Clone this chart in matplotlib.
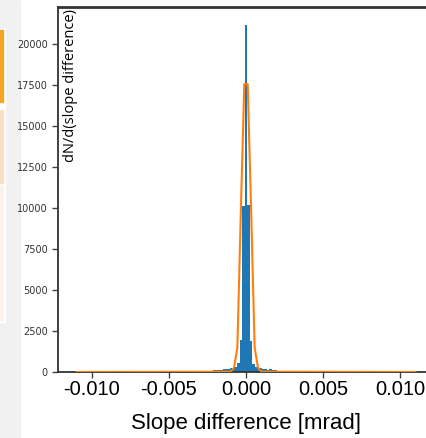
import numpy as np
import matplotlib
matplotlib.use("Agg")
import matplotlib.pyplot as plt
from matplotlib.patches import Rectangle

# histogram of slope differences (blue), bin heights
bin_width = 0.00016
hist_counts = [60, 90, 110, 140, 120, 150, 180, 160, 200, 230, 260, 330,
               520, 1950, 10150, 21180, 10200, 1900, 480,
               310, 250, 220, 190, 170, 150, 160, 120, 100, 80, 60, 40]

# fitted curve (orange)
fit_x = [-0.011, -0.00100, -0.00078, -0.00056, -0.00033, -0.00011,
         0.00011, 0.00033, 0.00056, 0.00078, 0.00100, 0.011]
fit_y = [0, 20, 250, 1500, 10000, 17580,
         17580, 10000, 1500, 250, 20, 0]

xticks = [-0.010, -0.005, 0.000, 0.005, 0.010]
yticks = [0, 2500, 5000, 7500, 10000, 12500, 15000, 17500, 20000]

W, H = 426, 438
fig = plt.figure(figsize=(W / 100, H / 100), dpi=100)

# leftover notebook strip on the left (behind everything)
def strip(x0, y0, w, h, c):
    fig.patches.append(Rectangle((x0 / W, 1 - (y0 + h) / H), w / W, h / H,
                                 transform=fig.transFigure, color=c, zorder=-10))

strip(0, 0, 20, H, "#f1f1f1")
strip(0, 28, 4.7, 294, "white")
strip(0, 30, 3, 72, "#f5a623")
strip(0, 110, 3, 73, "#fbe0c8")
strip(0, 186, 3, 134, "#fef3ea")

left, right, top, bottom = 58, 434, 7, 372
ax = fig.add_axes([left / W, 1 - bottom / H, (right - left) / W, (bottom - top) / H])
ax.patch.set_alpha(0)

n = len(hist_counts)
centers = (np.arange(n) - n // 2) * bin_width
ax.bar(centers, hist_counts, width=bin_width, color="#1f77b4", linewidth=0, zorder=2)
ax.plot(fit_x, fit_y, color="#ff7f0e", linewidth=1.5, zorder=3)

ax.set_xlim(-0.0122, 0.0122)
ax.set_ylim(0, 22280)
ax.set_xticks(xticks)
ax.set_xticklabels(["%.3f" % v for v in xticks], family="Liberation Sans", fontsize=14.5)
ax.set_yticks(yticks)
ax.set_yticklabels([str(v) for v in yticks], fontsize=7, color="#333333")
ax.tick_params(axis="both", length=4, width=1, color="#444444")
ax.tick_params(axis="x", pad=2)

for s in ax.spines.values():
    s.set_color("#333333")
    s.set_linewidth(1.3)
ax.spines["top"].set_linewidth(2)

ax.set_xlabel("Slope difference [mrad]", family="Liberation Sans", fontsize=16, labelpad=10)
ax.set_ylabel("dN/d(slope difference)", family="Open Sans", fontsize=10.5, loc="top")
ax.yaxis.set_label_coords(20 / (right - left), 1 - 2 / (bottom - top))

fig.savefig("out.png", dpi=100)
